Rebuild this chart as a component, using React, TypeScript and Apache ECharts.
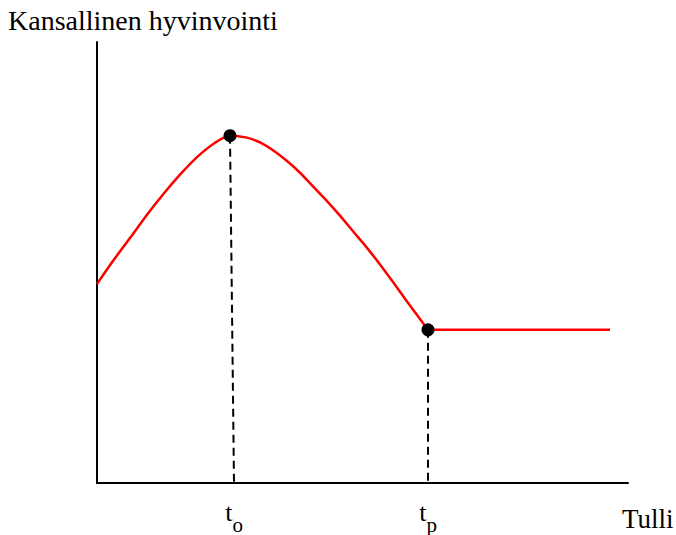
import React, { useEffect, useRef } from "react";
import * as echarts from "echarts";

// Conceptual chart: tariff (x) vs national welfare (y), in arbitrary units
const curveX = [0, 17, 33, 50, 67, 83, 100, 117, 133, 150, 163, 176, 190, 203, 216, 230, 243, 256, 270, 283, 296, 310, 323, 331];
const curveY = [204, 229, 251, 275, 297, 316, 334, 348, 356, 354, 349, 341, 330, 318, 304, 289, 274, 258, 241, 224, 206, 186, 168, 157];
const flatX = [331, 513];
const flatY = [157, 157];
const optimumTariff = { x: 133, y: 356, xBase: 137 };
const prohibitiveTariff = { x: 331, y: 157 };
const tickLabels = ["o", "p"];
const title = "Kansallinen hyvinvointi";
const xName = "Tulli";

const FONT = '"Liberation Serif", "Times New Roman", serif';

export default function App() {
  const ref = useRef<HTMLDivElement>(null);
  useEffect(() => {
    document.body.style.margin = "0";
    const chart = echarts.init(ref.current!, null, { renderer: "svg" });
    const zip = (xs: number[], ys: number[]) => xs.map((x, i) => [x, ys[i]]);
    chart.setOption({
      animation: false,
      backgroundColor: "#ffffff",
      title: {
        text: title,
        left: 8,
        top: 6,
        padding: 0,
        textStyle: { fontFamily: FONT, fontSize: 28, fontWeight: "normal", color: "#000" },
      },
      grid: { left: 97, right: 48, top: 42, bottom: 41 },
      xAxis: {
        type: "value",
        min: 0,
        max: 531,
        axisLine: { show: true, lineStyle: { color: "#000", width: 2 } },
        axisTick: { show: false },
        splitLine: { show: false },
        axisLabel: {
          show: true,
          customValues: [optimumTariff.xBase, prohibitiveTariff.x],
          margin: 16,
          formatter: (v: number) =>
            "{t|t}{s|" + (v === prohibitiveTariff.x ? tickLabels[1] : tickLabels[0]) + "}",
          rich: {
            t: { fontFamily: FONT, fontSize: 26, color: "#000", verticalAlign: "bottom", lineHeight: 26 },
            s: { fontFamily: FONT, fontSize: 21, color: "#000", verticalAlign: "bottom", lineHeight: 26, padding: [0, 0, -10, 0] },
          },
        },
      },
      yAxis: {
        type: "value",
        min: 0,
        max: 452,
        axisLine: { show: true, lineStyle: { color: "#000", width: 2 } },
        axisTick: { show: false },
        axisLabel: { show: false },
        splitLine: { show: false },
      },
      graphic: [
        {
          type: "text",
          left: 622,
          top: 505,
          style: { text: xName, fontFamily: FONT, fontSize: 27, fill: "#000" },
        },
      ],
      series: [
        {
          type: "line",
          data: [[optimumTariff.x, optimumTariff.y], [optimumTariff.xBase, 0]],
          symbol: "none",
          lineStyle: { color: "#000", width: 2, type: [8, 5] },
          z: 1,
        },
        {
          type: "line",
          data: [[prohibitiveTariff.x, prohibitiveTariff.y], [prohibitiveTariff.x, 0]],
          symbol: "none",
          lineStyle: { color: "#000", width: 2, type: [8, 5] },
          z: 1,
        },
        {
          type: "line",
          data: zip(curveX, curveY),
          smooth: 0.3,
          symbol: "none",
          lineStyle: { color: "#ff0000", width: 2.5 },
          z: 2,
        },
        {
          type: "line",
          data: zip(flatX, flatY),
          symbol: "none",
          lineStyle: { color: "#ff0000", width: 2.5 },
          z: 2,
        },
        {
          type: "scatter",
          data: [[optimumTariff.x, optimumTariff.y], [prohibitiveTariff.x, prohibitiveTariff.y]],
          symbolSize: 13,
          itemStyle: { color: "#000", opacity: 1 },
          z: 3,
        },
      ],
    });
    return () => chart.dispose();
  }, []);
  return <div ref={ref} style={{ width: 676, height: 535 }} />;
}
